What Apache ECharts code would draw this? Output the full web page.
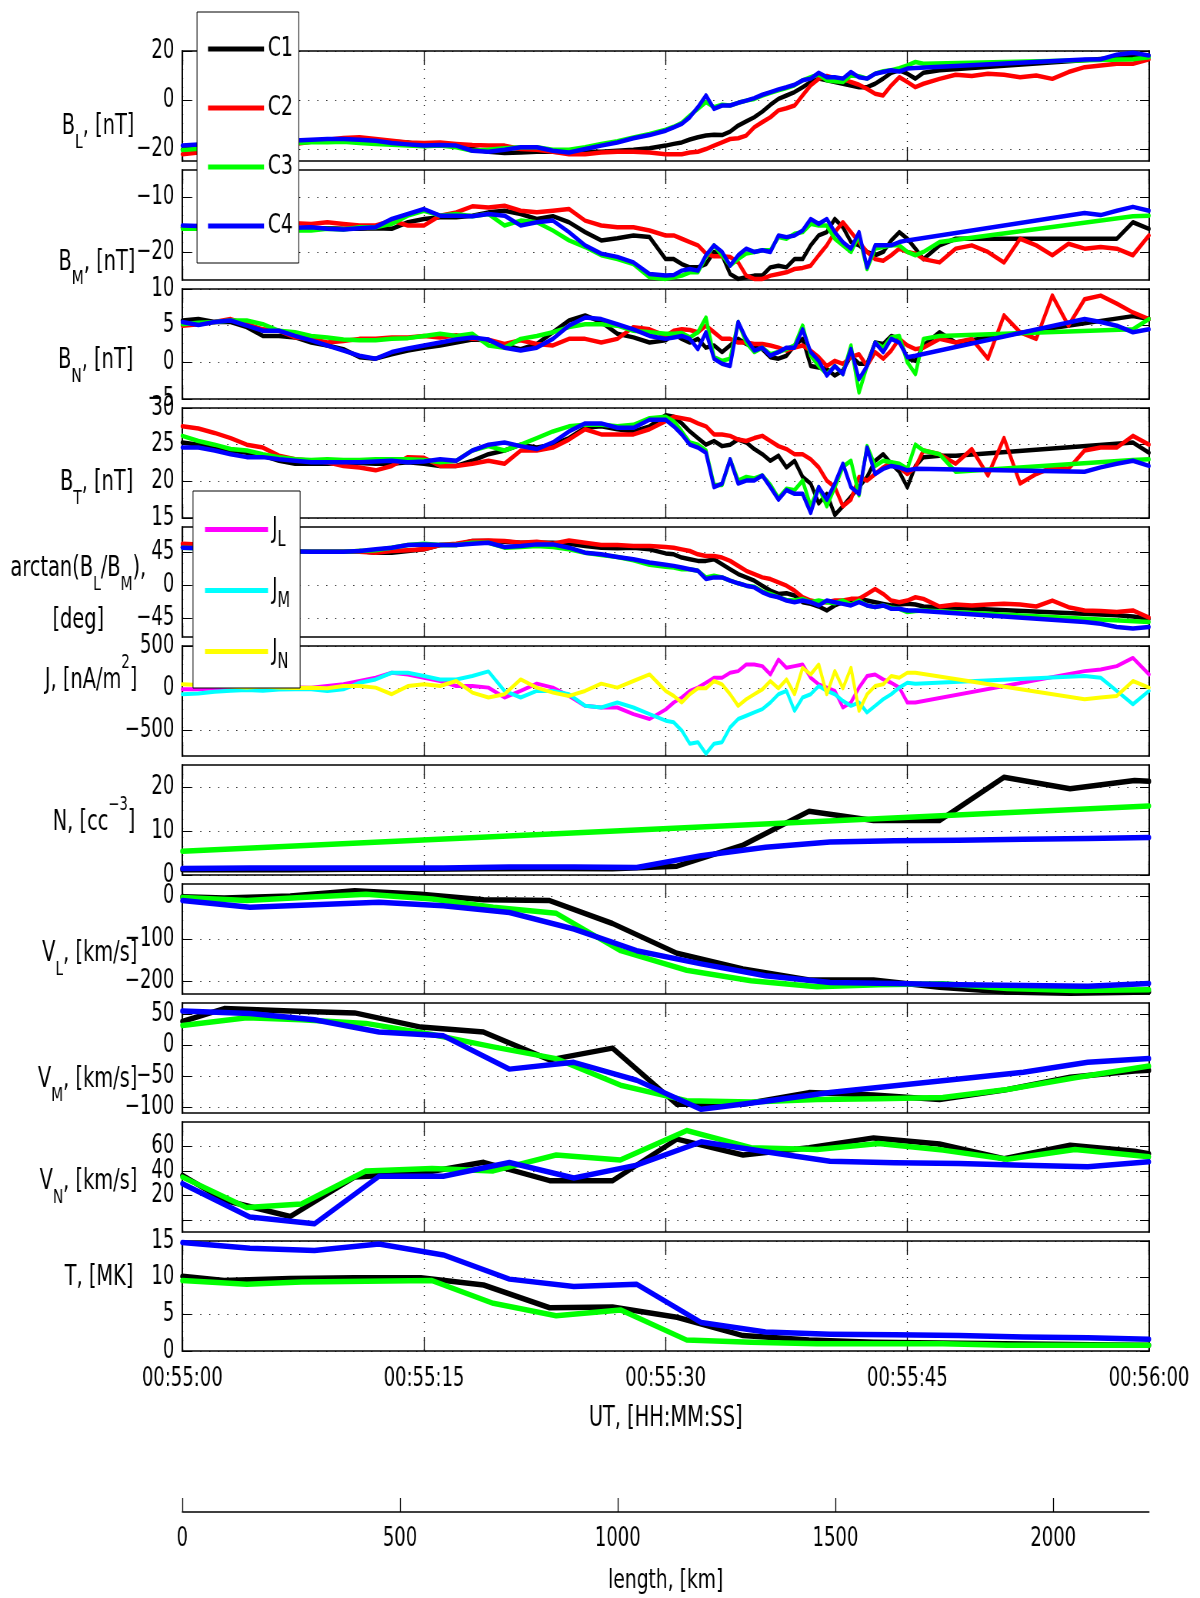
<!DOCTYPE html>
<html>
<head>
<meta charset="utf-8">
<script src="https://cdn.jsdelivr.net/npm/echarts@6/dist/echarts.min.js"></script>
<style>
  html, body { margin: 0; padding: 0; background: #fff; overflow: hidden; }
  #frame { width: 1200px; height: 1598px; overflow: hidden; }
  #chart { height: 1598px; transform-origin: 0 0; }
</style>
</head>
<body>
<div id="frame"><div id="chart"></div></div>
<script>
// ---------------------------------------------------------------------------
// Time base of the magnetometer / curlometer traces, seconds after 00:55:00
// ---------------------------------------------------------------------------
const tField = [
  0,1,2,3,4,5,6,7,8,9,10,11,12,13,14,15,16,17,18,19,20,21,22,23,24,25,26,27,28,29,30,
  30.5,31,31.5,32,32.5,33,33.5,34,34.5,35,35.5,36,36.5,37,37.5,38,38.5,39,39.5,40,40.5,41,41.5,42,42.5,43,43.5,44,44.5,45,45.5,46,
  47,48,49,50,51,52,53,54,55,56,57,58,59,60
];
const _ = null; // no sample (data gap)

// B_L [nT]
const bL_C1 = [
  -20.3,-19.8,-19.3,-18.8,-18.3,-17.9,-17.6,-17.3,-16.9,-16.8,-16.4,-16.3,-16.7,-17.1,-17.4,-18.5,-18.3,-19.1,-20.1,-21.2,-21.7,-21.5,-21.2,-21.2,-21.5,-21.2,-21.2,-20.8,-20.4,-19.8,-18.7,
  -18,-17.4,-16.2,-15.3,-14.6,-14.3,-14.4,-13,-10.5,-8.8,-7.1,-4.8,-2,0.4,1.8,3.2,5.2,7.3,8.7,8,7.3,6.6,5.9,5.2,5.2,6.6,8.7,11.1,12.1,10.7,8.7,11.1,
  12.1,_,_,_,_,_,_,_,_,_,_,_,17.6,18
];
const bL_C2 = [
  -22.2,-21.5,-20.8,-20.2,-19.6,-19,-18.5,-18,-17.1,-16.3,-15.6,-15.3,-16,-16.7,-17.4,-17.6,-17.4,-18,-18.5,-18.7,-18.7,-20.1,-20.4,-21.2,-22.2,-22.2,-21.5,-21.2,-21.2,-21.5,-22.2,
  -22.2,-22.2,-21.5,-21.2,-20.1,-18.7,-17.4,-16,-15.7,-14.6,-11.2,-9.1,-7.1,-4.3,-3.4,-2.3,1.8,5.9,8.6,9.8,8.9,8.6,7.3,6.2,4.5,2.5,1.8,5.9,9.3,7.3,5.2,6.6,
  8.6,10.3,9.8,10.7,10.3,9.3,10,8.6,11.4,13.4,14.1,14.8,14.8,16.6
];
const bL_C3 = [
  -20.5,-20,-19.5,-19,-18.6,-18.2,-17.9,-17.6,-17.3,-17.3,-17.1,-17.6,-18,-18.4,-18.7,-19,-18.7,-19.4,-20.8,-20.4,-19.8,-19.4,-19.4,-20.4,-20.4,-19.4,-18,-16.9,-15.4,-13.9,-12.2,
  -11,-9.4,-6.4,-3.7,-0.9,-3,-2,-2.3,-1.2,-0.3,0.4,1.8,2.9,3.9,4.8,6,8,9.3,10.4,8,7.6,7.3,10,9.7,8.7,10.7,11.7,12.1,13,14.1,15.5,14.8,
  _,_,_,_,_,_,_,_,_,_,_,_,16.6,17.4
];
const bL_C4 = [
  -18.7,-18.3,-17.9,-17.6,-17.3,-17,-16.8,-16.6,-16.3,-16,-16,-16.3,-16.7,-17.6,-18.2,-18.7,-18.5,-18.7,-20.8,-21.2,-20.4,-19.4,-19.4,-20.8,-21.5,-20.1,-18.7,-17.4,-15.7,-14.4,-12.6,
  -11.2,-9.8,-7.1,-3,1.8,-3.7,-2.3,-2.3,-1.2,-0.3,0.7,2.1,3.2,4.3,5.2,6.2,8,8.7,11.1,9.3,9.3,8.7,11.4,9.3,8.7,10.7,11.4,12.1,11.6,12.8,13,_,
  _,_,_,_,_,_,_,_,_,16.5,16.6,18.5,19.3,18.2
];

// B_M [nT]
const bM_C1 = [
  -15.4,-15.4,-15.5,-15.5,-15.6,-15.6,-15.7,-15.7,-15.7,-15.6,-15.7,-15.7,-15.6,-15.7,-14.5,-13.9,-13.6,-13.6,-13.3,-12.7,-12.4,-13,-13.9,-13.4,-14.5,-16.3,-17.8,-17.4,-16.9,-17.2,-21.2,
  -21.2,-22.1,-22.7,-22.7,-22.1,-19.9,-20.5,-23.9,-24.8,-24.5,-24.2,-24.2,-22.7,-22.4,-22.7,-21.2,-21.2,-18.7,-16.9,-16.3,-13.9,-15.4,-18.1,-18.7,-19.9,-20.5,-19.9,-17.8,-16.3,-17.5,-19.3,-21.2,
  -18.7,-17.5,_,_,_,_,_,_,_,_,_,-17.5,-14.5,-15.7
];
const bM_C2 = [
  -15.4,-15.2,-15,-14.9,-14.8,-14.8,-14.7,-14.7,-14.8,-14.5,-14.8,-15.1,-15.1,-14.2,-15.1,-15.1,-13.3,-12.7,-11.6,-11.8,-11.5,-12.4,-12.7,-12.4,-12.1,-14.2,-15.1,-15.4,-15.4,-16,-16.9,
  -16.9,-17.5,-18.1,-18.7,-20.2,-20.7,-20.7,-20.8,-21.8,-24.2,-24.8,-24.8,-24.2,-23.9,-23.6,-23,-22.8,-22.4,-20.5,-18.7,-16.3,-14.5,-16.3,-18.1,-19.9,-21.2,-21.5,-20.5,-19.3,-19.9,-20.2,-21.2,
  -21.8,-19.3,-18.7,-19.9,-21.8,-17.5,-18.7,-20.5,-18.4,-19.3,-19,-19.3,-20.5,-16.9
];
const bM_C3 = [
  -15.7,-15.7,-15.8,-15.8,-15.9,-15.9,-16,-16,-16,-15.7,-15.8,-15.4,-15.4,-14.8,-13.3,-12.4,-13.3,-13,-13.4,-13,-15.1,-14.2,-14.5,-16,-17.8,-19,-20.5,-21.2,-22.1,-24.5,-24.8,
  -24.5,-24.2,-23.6,-23.6,-20.8,-18.7,-20.5,-22.4,-21.2,-20.2,-19.9,-19.6,-19.6,-17.2,-17.5,-16.6,-16.3,-14.8,-15.1,-15.1,-17.5,-18.7,-19.9,-16.9,-23,-19.3,-19,-18.7,-18.7,-19.9,-20.5,-19.9,
  -18.1,_,_,_,_,_,_,_,_,_,_,_,-13.4,-13.3
];
const bM_C4 = [
  -15.1,-15.2,-15.3,-15.4,-15.5,-15.5,-15.5,-15.5,-15.4,-15.7,-15.8,-15.6,-15.4,-13.9,-13,-12.1,-13.3,-13.3,-13.4,-13,-13.3,-15.1,-14.5,-14.2,-16.3,-18.7,-20.2,-20.8,-21.8,-23.9,-24.2,
  -24.1,-23.3,-23,-23.3,-20.5,-18.7,-19.9,-22.4,-20.5,-19.3,-19.9,-19.6,-19.9,-16.9,-17.2,-16.9,-16,-13.9,-14.8,-13.9,-16.3,-18.1,-19.3,-16.3,-22.7,-18.7,-18.7,-18.7,-18.1,-17.8,-17.6,_,
  _,_,_,_,_,_,_,_,_,-12.8,-13.2,-12.4,-11.7,-12.4
];

// B_N [nT]
const bN_C1 = [
  5.7,5.9,5.5,5.5,4.8,3.6,3.6,3.4,2.7,2.3,1.8,0.7,0.5,1.1,1.6,2,2.3,2.7,3.1,3,2.3,1.8,2.5,4.1,5.7,6.4,5.5,3.9,3.4,2.7,3,
  3.9,3.2,2.7,3.2,2,2.3,1.4,2.3,3.2,2.5,2,1.8,0.7,0.5,0.9,2.3,3.2,-0.5,-0.7,-0.9,-1.8,-1.1,0.9,-0.2,-0.2,2.7,2.5,3.6,3.2,0.5,0.2,2.3,
  4.1,2.7,_,_,_,_,_,_,_,_,_,_,6.3,5.9
];
const bN_C2 = [
  5,5.2,5.5,5.9,5.2,4.5,4.3,3.4,3.2,2.7,2.9,3.2,3.2,3.4,3.4,3.6,3.4,3.7,3.2,3.1,2.5,3,2.5,2.3,3.2,3.2,2.7,3.2,4.8,4.5,3.6,
  4.3,4.5,4.4,4.1,5,4.1,3.2,3.2,2.7,2.7,2.5,2.5,2.3,2,1.6,2,2.3,1.6,0.7,-0.5,0.2,-0.2,0.7,1.1,-0.5,1.4,0.5,1.6,3.2,2.3,1.8,2,
  3.2,2.7,3.2,0.5,6.4,4.1,3.2,9.1,5,8.6,9.1,8,6.8,5.9
];
const bN_C3 = [
  5.2,5.4,5.5,5.7,5.7,5.2,4.3,4.1,3.6,3.4,3.1,3,3,3.2,3.3,3.6,3.9,3.6,3.9,2.3,2,3.2,3.6,4.1,4.8,5.2,5.2,5,4.3,4.1,3.9,
  3.9,4,3.4,4.1,6.1,0.7,0.2,0.5,5.5,2.7,1.4,2,1.1,1.4,1.8,2.3,5,0.9,-0.5,-1.6,-0.5,-1.6,2.3,-4.1,-0.5,2.7,2,3.4,3.6,0,-1.6,3.2,
  3.6,_,_,_,_,_,_,_,_,_,_,_,4.5,5.9
];
const bN_C4 = [
  5.5,5.1,5.5,5.7,5,4.3,4.3,3.6,3,2.3,1.6,0.9,0.5,1.4,1.9,2.3,2.7,3.1,3.4,3.1,2,1.6,2,3.2,5,6.1,5.9,5.2,4.5,3.6,3.2,
  3.4,3.6,3.2,1.8,4.1,0.5,-0.2,-0.5,5.5,3.2,1.6,2,0.9,1.4,2,2,4.5,1.4,0.2,-1.8,-0.5,-1.6,1.8,-2.3,-0.5,2.7,1.4,3.2,2.7,0.7,0.9,_,
  _,_,_,_,_,_,_,_,_,5.9,5.5,5,4.1,4.5
];

// B_T [nT]
const bT_C1 = [
  25.3,25,24.6,24.2,23.9,23.5,22.8,22.4,22.4,22.4,22.5,22.5,22.4,22.4,22.6,22.4,22.1,22.1,22.8,23.7,24.2,25,24.6,25,25.9,27.3,27.5,27.1,26.8,27.5,29,
  28.8,27.9,26.8,25.9,25,25.5,24.8,25,25.7,25.3,24.4,23.7,22.8,23.5,21.9,22.8,20.6,19.7,17,18.3,15.4,16.6,17.9,19.2,20.6,22.8,23.7,22.4,21.3,19.2,22.1,23.3,
  23.5,23.5,_,_,_,_,_,_,_,_,_,_,25.3,23.9
];
const bT_C2 = [
  27.5,27.2,26.6,25.9,25,24.6,23.5,23,22.8,22.6,22.1,21.9,21.5,22.1,23.3,23.2,22.1,22.1,22.4,22.8,22.4,24.2,24.2,24.6,25.7,27.1,26.4,26.4,26.4,27.1,28.2,
  28.8,28.6,28.4,27.9,27.5,26.4,26.4,26.2,25.7,25.5,25.9,26.2,25.5,24.8,24.4,23.7,23.7,23,21.9,20.1,19.2,16.6,17.5,20.6,20.1,21,21.9,22.6,21.9,21,21.9,24.2,
  23.7,22.4,24.4,20.8,25.9,19.7,21,21.9,21.7,24.2,24.6,24.6,26.2,25
];
const bT_C3 = [
  26.2,25.5,25,24.4,24.2,23.7,23.3,23,22.9,23,22.9,22.9,23,23,23,22.9,22.6,22.8,24.2,24.8,24.2,25,25.9,26.8,27.5,27.7,27.7,27.5,27.7,28.6,28.8,
  28.2,26.8,25.3,25,24.2,19.5,19.5,23,20.1,20.6,20.4,20.8,19.5,17.7,19,18.8,20.1,16.6,19.2,16.6,19.2,22,22.8,18.1,24.8,22.1,22.8,22.6,22.4,21.7,25,24.2,
  23.7,21.3,_,_,_,_,_,_,_,_,_,_,22.9,23
];
const bT_C4 = [
  24.6,24.6,24.2,23.7,23.3,23.3,23,22.8,22.6,22.6,22.6,22.6,22.7,22.8,22.6,22.7,23,22.8,24.2,25,25.3,24.8,24.4,25.3,26.8,27.9,27.9,27.3,27.3,28.4,28.4,
  27.5,26.4,25,24.6,23.9,19.2,19.7,23,19.7,20.1,20.1,20.8,19.2,17.5,18.8,18.3,18.3,15.7,19.2,17.5,19.7,22.4,19.2,18.3,24.6,21,21.7,22.1,21.9,21.5,21.7,_,
  _,_,_,_,_,_,_,_,_,21.3,21.9,22.4,22.8,22.1
];

// arctan(B_L/B_M) [deg]
const ang_C1 = [
  52.7,51,50,49,48,47.5,47,46.5,46.4,46.4,46.4,47.3,45,45,47.3,49.5,55.4,55.4,60.8,60.8,59.9,58.5,58.5,58.5,57.2,54,51.8,50.9,51.8,49.5,44,
  42.8,38.3,36,33.8,33.8,36,29.3,22.5,15.8,11.3,6.8,0,-6.8,-11.3,-10.4,-13.5,-22.5,-24.8,-28.4,-33.8,-27,-22.5,-22.5,-18,-20.3,-22.5,-24.8,-27,-25.7,-24.8,-25.7,-28.4,
  -29.3,_,_,_,_,_,_,_,_,_,_,-40.5,-41.9,-45
];
const ang_C2 = [
  57.2,56,54,52,50,48,47,46.5,46.4,46.4,46.4,46.4,45,47.3,48.2,49.5,55.4,57.2,60.8,61.7,60.8,58.5,59.9,57.2,61.7,58.5,55.4,55.4,54,54,52.7,
  51.8,49.5,47.3,42.8,40.5,40.5,38.3,33.8,27,20.3,15.8,11.3,9,4.5,0,-6.8,-15.8,-20.3,-22.5,-22.5,-20.3,-20.3,-18,-18,-11.3,-4.5,-11.3,-20.3,-22.5,-20.3,-15.8,-18,
  -28.4,-25.7,-27,-25.7,-24.8,-25.7,-28.4,-20.3,-29.3,-33.8,-34.7,-36,-33.8,-43.7
];
const ang_C3 = [
  51.8,51,50,49,48,47.5,47,46.5,46.4,46.4,46.4,47.3,48.2,51.8,55.4,57.2,55.4,55.4,58.5,58.5,51.8,52.7,54,52.7,49.5,45,41.9,39.2,34.7,28.4,25.7,
  24.8,22.5,22.5,20.3,11.3,13.5,11.3,6.8,3.2,0,-1.4,-7.7,-11.3,-15.8,-19.4,-20.3,-18,-22.5,-20.3,-22.5,-23.9,-20.3,-25.7,-20.3,-27,-29.3,-27,-30.2,-31.5,-36,-34.7,-33.8,
  _,_,_,_,_,_,_,_,_,_,_,_,_,-49.5
];
const ang_C4 = [
  51.8,51,50,49,48,47.5,47,46.5,46.4,46.4,46.4,47.3,49.5,51.8,55.4,56.3,55.4,55.4,57.2,58.5,52.7,54,56.3,56.3,51.8,45,42.8,39.2,36,31.5,28.4,
  27,24.8,22.5,20.3,9,11.3,11.3,6.8,3.2,0,-2.3,-9,-13.5,-15.8,-20.3,-22.5,-20.3,-22.5,-27,-20.3,-22.5,-24.8,-27,-22.5,-27,-29.3,-27,-31.5,-31.5,-33.8,-33.8,_,
  _,_,_,_,_,_,_,_,_,-49.5,-51.8,-56.3,-58.5,-56.3
];

// Curlometer current density [nA/m^2]
const jL = [
  -12,-10,0,10,-20,5,0,10,8,27,47,86,125,184,164,125,86,27,27,8,-109,-31,55,8,-90,-207,-227,-227,-305,-363,-250,
  -168,-109,-31,8,66,125,125,184,203,281,281,262,164,340,242,262,281,125,47,8,-31,-227,-168,8,145,164,105,66,8,-168,-168,_,
  _,_,_,_,_,_,_,_,_,203,223,262,359,164
];
const jM = [
  -70,-60,-40,-30,-20,-30,-15,-10,-12,-31,-12,66,105,184,184,145,105,105,145,200,-31,-109,-31,-31,-70,-207,-227,-168,-227,-305,-383,
  -402,-500,-656,-637,-773,-656,-637,-461,-363,-324,-285,-246,-168,-70,-31,-266,-109,-70,27,-31,-70,-148,-207,-168,-285,-207,-129,-70,8,66,55,_,
  _,_,_,_,_,_,_,_,_,145,125,-31,-188,-31
];
const jN = [
  47,40,30,20,10,20,10,5,8,0,27,27,8,-70,27,47,27,86,-51,-109,-70,105,8,-51,-90,-31,55,8,86,164,-31,
  -90,-168,-70,0,0,86,47,-70,-207,-129,-70,-12,86,0,105,-70,242,164,281,-70,203,0,242,-266,-70,27,47,145,125,184,184,_,
  _,_,_,_,_,_,_,_,_,-129,-109,-90,86,8
];

// ---------------------------------------------------------------------------
// Ion moments (spin resolution), seconds after 00:55:00
// ---------------------------------------------------------------------------
const c1T  = [0, 2.6, 6.7, 10.7, 14.8, 18.7, 22.8, 26.7, 30.7, 34.8, 38.9, 42.9, 47.0, 51.0, 55.1, 59.1, 60];
const c1N  = [1.2, 1.2, 1.2, 1.3, 1.3, 1.4, 1.5, 1.4, 2.0, 6.8, 14.5, 12.4, 12.4, 22.2, 19.6, 21.5, 21.3];
const c1VL = [0, -3, 2, 14, 6, -7, -9, -63, -133, -170, -196, -196, -213, -224, -227, -225, -224];
const c1VM = [39, 60, 56, 53, 30, 22, -23, -4, -95, -95, -76, -80, -87, -72, -51, -41, -40];
const c1VN = [36.4, 16, 2.7, 35, 38, 47, 32, 32, 66, 53, 59, 67, 62, 50, 61, 56, 54];
const c1Ti = [10.2, 9.6, 9.9, 10, 10, 9.0, 5.9, 6.0, 4.6, 2.1, 1.5, 1.2, 1.1, 1.0, 0.9, 0.8, 0.8];

const c3T  = [0, 4.0, 7.4, 11.4, 15.5, 19.3, 23.2, 27.2, 31.3, 35.3, 39.4, 43.2, 47.2, 51.2, 55.4, 60];
const c3NT = [0, 60];
const c3N  = [5.4, 15.7];
const c3VL = [-1.5, -9, -1.5, 6, -5.5, -25, -39, -127, -173, -198, -212, -207, -205, -216, -221, -219];
const c3VM = [32.6, 45, 42, 36, 18, -2, -21, -64, -89, -91, -87, -86, -84, -71, -52, -33];
const c3VN = [35, 10, 13, 40, 42, 40, 53, 49, 73, 59, 57.5, 62.5, 57, 49.5, 57.5, 51.5];
const c3Ti = [9.6, 9.1, 9.4, 9.5, 9.6, 6.5, 4.8, 5.6, 1.5, 1.2, 1.0, 1.0, 1.0, 0.8, 0.8, 0.8];

const c4T  = [0, 4.2, 8.2, 12.2, 16.2, 20.3, 24.3, 28.2, 32.2, 36.2, 40.2, 44.2, 48.2, 52.2, 56.2, 60];
const c4N  = [1.5, 1.6, 1.6, 1.6, 1.6, 1.8, 1.8, 1.7, 4.4, 6.3, 7.5, 7.8, 7.9, 8.1, 8.3, 8.5];
const c4VL = [-9, -25, -19, -13, -21, -37, -76, -127, -158, -186, -202, -204, -207, -209, -211, -204];
const c4VM = [56, 52, 42, 22, 16, -38, -27, -56, -103, -90, -76, -65, -54, -43, -27, -21];
const c4VN = [29.6, 2.2, -3.3, 35.6, 35.6, 46.8, 34.2, 44.7, 63.8, 55.6, 47.9, 46.6, 46, 44.7, 43.3, 47.4];
const c4Ti = [14.8, 14.0, 13.7, 14.6, 13.1, 9.8, 8.8, 9.1, 3.9, 2.6, 2.3, 2.2, 2.1, 1.9, 1.8, 1.6];

// Secondary axis: distance along the crossing
const lengthTicks = [0, 500, 1000, 1500, 2000];
const lengthMax = 2220;

// ---------------------------------------------------------------------------
// Styling and layout.  The chart is laid out SX times wider and squeezed back
// horizontally, which gives the tall, condensed lettering of the figure.
// ---------------------------------------------------------------------------
const SX = 1.3;
const px = v => v * SX;              // horizontal distances in final-page pixels
const chartEl = document.getElementById('chart');
chartEl.style.width = (1200 * SX) + 'px';
chartEl.style.transform = 'scaleX(' + (1 / SX) + ')';

const FONT = "'Liberation Sans Narrow', 'DejaVu Sans Condensed', 'DejaVu Sans', sans-serif";
const COLORS = { C1: '#000000', C2: '#ff0000', C3: '#00ff00', C4: '#0000ff', JL: '#ff00ff', JM: '#00ffff', JN: '#ffff00' };

const FIRST_TOP = 51, PANEL_STEP = 119, PANEL_H = 110;

const nameRich = {
  m: { fontFamily: FONT, fontSize: 28, lineHeight: 52, color: '#000' },
  s: { fontFamily: FONT, fontSize: 20, lineHeight: 20, padding: [32, 0, 0, 0], color: '#000' },
  u: { fontFamily: FONT, fontSize: 19, lineHeight: 20, padding: [0, 0, 36, 0], color: '#000' }
};

// `labels` are printed on the axis itself; closely spaced ones go on a
// second, bare axis (`extraLabels`) so that none of them is dropped.
const panelAxes = [
  { label: '{m|B}{s|L}{m|, [nT]}', min: -25, max: 20, ticks: [-20, 0, 20], shift: 21, gap: 48 },
  { label: '{m|B}{s|M}{m|, [nT]}', min: -25, max: -5, ticks: [-20, -10], shift: 38, gap: 47 },
  { label: '{m|B}{s|N}{m|, [nT]}', min: -5, max: 10, ticks: [-5, 0, 5, 10], shift: 17, gap: 49 },
  { label: '{m|B}{s|T}{m|, [nT]}', min: 15, max: 30, ticks: [15, 20, 25, 30], shift: 20, gap: 49 },
  { label: '{m|arctan(B}{s|L}{m|/B}{s|M}{m|),}\n{m|[deg]}', min: -70, max: 80, ticks: [-45, 0, 45], shift: 13, gap: 104, align: 'center' },
  { label: '{m|J, [nA/m}{u|2}{m|]}', min: -800, max: 500, ticks: [-500, 0, 500], shift: -20, gap: 45 },
  { label: '{m|N, [cc}{u|\u22123}{m|]}', min: 0, max: 25, ticks: [0, 10, 20], shift: 3, gap: 47 },
  { label: '{m|V}{s|L}{m|, [km/s]}', min: -229, max: 30, ticks: [-200, -100, 0], shift: 15, gap: 45 },
  { label: '{m|V}{s|M}{m|, [km/s]}', min: -109, max: 69, ticks: [-100, -50, 0, 50], shift: 22, gap: 45 },
  { label: '{m|V}{s|N}{m|, [km/s]}', min: -10, max: 80, ticks: [0, 20, 40, 60], labels: [20, 60], extraLabels: [40], shift: 5, gap: 45 },
  { label: '{m|T, [MK]}', min: 0, max: 15, ticks: [0, 5, 10, 15], shift: -18, gap: 49 }
];

const xLine = { show: true, onZero: false, lineStyle: { color: '#000', width: 1.5 } };
const yLine = { show: true, onZero: false, lineStyle: { color: '#000', width: px(1.5) } };
const xTickLine = { color: '#000', width: px(1) };
const yTickLine = { color: '#000', width: 1 };
const xDotted = { show: true, lineStyle: { color: '#000', width: px(1), type: [1, 8] } };
const yDotted = { show: true, lineStyle: { color: '#000', width: 1, type: [px(1), px(8)] } };
const tickFont = { fontFamily: FONT, fontSize: 26, lineHeight: 20, color: '#000', hideOverlap: false };
const minusSign = v => String(v).replace('-', '\u2212');
const utLabel = v => {
  const s = Math.round(v);
  return s >= 60 ? '00:56:00' : '00:55:' + String(s).padStart(2, '0');
};

const grids = [], xAxes = [], yAxes = [], extraYAxes = [];
panelAxes.forEach((p, i) => {
  const last = i === panelAxes.length - 1;
  grids.push({ left: px(182.3), right: px(51), top: FIRST_TOP + i * PANEL_STEP, height: PANEL_H, outerBoundsMode: 'none' });
  // bottom time axis (with dotted vertical grid)
  xAxes.push({
    gridIndex: i, type: 'value', position: 'bottom', min: 0, max: 60, interval: 15,
    axisLine: xLine,
    axisTick: { inside: true, length: 14, lineStyle: xTickLine },
    axisLabel: Object.assign({ show: last, margin: 18, formatter: utLabel }, tickFont),
    splitLine: xDotted,
    name: last ? 'UT, [HH:MM:SS]' : '',
    nameLocation: 'middle', nameGap: 68, nameMoveOverlap: false,
    nameTextStyle: { fontFamily: FONT, fontSize: 28, color: '#000', verticalAlign: 'middle' }
  });
  // top edge of the box
  xAxes.push({
    gridIndex: i, type: 'value', position: 'top', min: 0, max: 60, interval: 15,
    axisLine: xLine,
    axisTick: { inside: true, length: 14, lineStyle: xTickLine },
    axisLabel: { show: false }, splitLine: { show: false }
  });
  // left value axis with label
  const pad = p.shift >= 0 ? [2 * p.shift, 0, 0, 0] : [0, 0, -2 * p.shift, 0];
  yAxes.push({
    gridIndex: i, type: 'value', position: 'left', min: p.min, max: p.max,
    axisLine: yLine,
    axisTick: { inside: true, length: px(9), lineStyle: yTickLine, customValues: p.ticks },
    axisLabel: Object.assign({ margin: px(8), customValues: p.labels || p.ticks, formatter: minusSign }, tickFont),
    splitLine: yDotted,
    name: p.label, nameLocation: 'middle', nameRotate: 0, nameGap: px(p.gap), nameMoveOverlap: false,
    nameTextStyle: {
      fontFamily: FONT, fontSize: 28, color: '#000',
      align: p.align || 'right', verticalAlign: 'middle', padding: pad, rich: nameRich
    }
  });
  // right edge of the box
  yAxes.push({
    gridIndex: i, type: 'value', position: 'right', min: p.min, max: p.max,
    axisLine: yLine,
    axisTick: { inside: true, length: px(9), lineStyle: yTickLine, customValues: p.ticks },
    axisLabel: { show: false }, splitLine: { show: false }
  });
  if (p.extraLabels) {
    extraYAxes.push({
      gridIndex: i, type: 'value', position: 'left', min: p.min, max: p.max,
      axisLine: { show: false }, axisTick: { show: false }, splitLine: { show: false },
      axisLabel: Object.assign({ margin: px(8), customValues: p.extraLabels, formatter: minusSign }, tickFont)
    });
  }
});

// detached distance axis under the time axis
grids.push({ left: px(182.3), right: px(51), top: 1400, height: 112, outerBoundsMode: 'none' });
xAxes.push({
  gridIndex: 11, type: 'value', position: 'bottom', min: 0, max: lengthMax,
  axisLine: xLine,
  axisTick: { inside: true, length: 14, lineStyle: xTickLine, customValues: lengthTicks },
  axisLabel: Object.assign({ margin: 17, customValues: lengthTicks, formatter: v => String(v) }, tickFont),
  splitLine: { show: false },
  name: 'length, [km]', nameLocation: 'middle', nameGap: 69, nameMoveOverlap: false,
  nameTextStyle: { fontFamily: FONT, fontSize: 27, color: '#000', verticalAlign: 'middle' }
});
yAxes.push({ gridIndex: 11, type: 'value', show: false, min: 0, max: 1 });
extraYAxes.forEach(a => yAxes.push(a));

// ---------------------------------------------------------------------------
// Series
// ---------------------------------------------------------------------------
const pairs = (ts, vs) => ts.map((t, k) => [t, vs[k]]).filter(p => p[1] !== null);
const trace = (name, panel, ts, vs, width) => ({
  type: 'line', name, xAxisIndex: panel * 2, yAxisIndex: panel * 2,
  data: pairs(ts, vs), symbol: 'none', showSymbol: false, clip: true, silent: true,
  lineStyle: { width, color: COLORS[name], cap: 'round', join: 'round' },
  itemStyle: { color: COLORS[name] },
  emphasis: { disabled: true }
});

const fieldPanels = [
  [bL_C1, bL_C2, bL_C3, bL_C4],
  [bM_C1, bM_C2, bM_C3, bM_C4],
  [bN_C1, bN_C2, bN_C3, bN_C4],
  [bT_C1, bT_C2, bT_C3, bT_C4],
  [ang_C1, ang_C2, ang_C3, ang_C4]
];
const series = [];
fieldPanels.forEach((set, i) => {
  ['C1', 'C2', 'C3', 'C4'].forEach((sc, k) => series.push(trace(sc, i, tField, set[k], 4.5)));
});
series.push(trace('JL', 5, tField, jL, 4));
series.push(trace('JM', 5, tField, jM, 4));
series.push(trace('JN', 5, tField, jN, 4));

const moments = [
  [[c1T, c1N], [c3NT, c3N], [c4T, c4N]],
  [[c1T, c1VL], [c3T, c3VL], [c4T, c4VL]],
  [[c1T, c1VM], [c3T, c3VM], [c4T, c4VM]],
  [[c1T, c1VN], [c3T, c3VN], [c4T, c4VN]],
  [[c1T, c1Ti], [c3T, c3Ti], [c4T, c4Ti]]
];
moments.forEach((set, j) => {
  ['C1', 'C3', 'C4'].forEach((sc, k) => series.push(trace(sc, 6 + j, set[k][0], set[k][1], 5.5)));
});

// ---------------------------------------------------------------------------
const chart = echarts.init(chartEl, null, { renderer: 'canvas' });
chart.setOption({
  animation: false,
  backgroundColor: '#ffffff',
  textStyle: { fontFamily: FONT },
  grid: grids,
  xAxis: xAxes,
  yAxis: yAxes,
  legend: [
    {
      data: ['C1', 'C2', 'C3', 'C4'], orient: 'vertical', left: px(197), top: 12,
      icon: 'rect', itemWidth: px(56), itemHeight: 5, itemGap: 29,
      padding: [22, px(6), 22, px(11)], backgroundColor: '#fff', borderColor: '#000', borderWidth: 1,
      selectedMode: false, z: 20,
      textStyle: { fontFamily: FONT, fontSize: 27, color: '#000', lineHeight: 30 }
    },
    {
      data: ['JL', 'JM', 'JN'], orient: 'vertical', left: px(193), top: 491,
      icon: 'rect', itemWidth: px(63), itemHeight: 5, itemGap: 18,
      padding: [17, px(10), 15, px(12)], backgroundColor: '#fff', borderColor: '#000', borderWidth: 1,
      selectedMode: false, z: 20,
      formatter: n => '{j|J}{s|' + n.slice(1) + '}',
      textStyle: {
        fontFamily: FONT, fontSize: 27, color: '#000',
        rich: {
          j: { fontFamily: FONT, fontSize: 28, lineHeight: 40, color: '#000' },
          s: { fontFamily: FONT, fontSize: 21, lineHeight: 18, padding: [22, 0, 0, 0], color: '#000' }
        }
      }
    }
  ],
  series
});
</script>
</body>
</html>
